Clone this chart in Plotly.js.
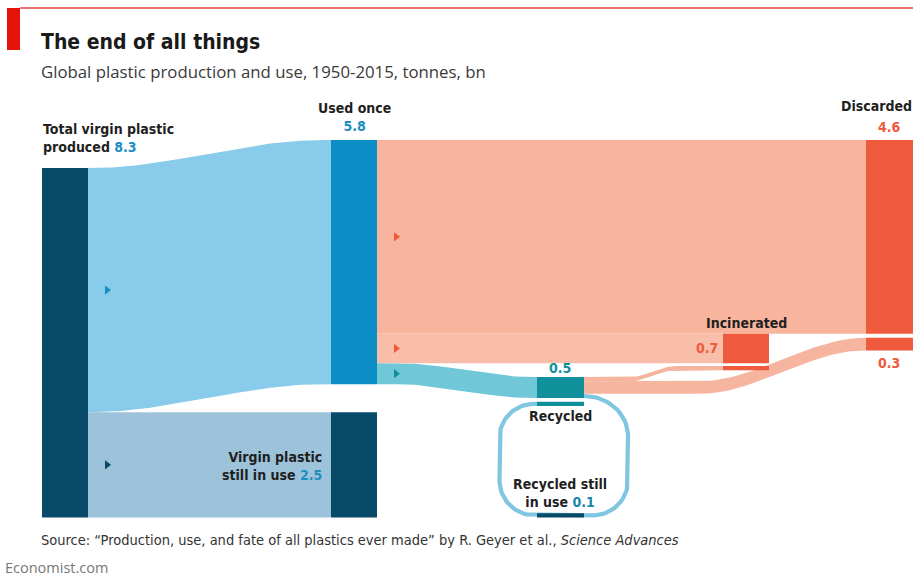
<!DOCTYPE html>
<html>
<head>
<meta charset="utf-8">
<script src="https://cdn.plot.ly/plotly-3.0.1.min.js"></script>
<style>html,body{margin:0;padding:0;background:#fff;}#chart{width:913px;height:578px;}</style>
</head>
<body>
<div id="chart"></div>
<script>
// ---------------- DATA ----------------
const nodeNames = ['Total virgin plastic produced', 'Used once', 'Virgin plastic still in use', 'Discarded', 'Incinerated', 'Recycled', 'Recycled still in use'];
const nodeTotals = [8.3, 5.8, 2.5, 4.6, 0.7, 0.5, 0.1];
const linkSource = [0, 0, 1, 1, 1, 5, 5, 5];
const linkTarget = [1, 2, 3, 4, 5, 4, 3, 6];
const linkValue  = [5.8, 2.5, 4.6, 0.7, 0.5, 0.1, 0.3, 0.1];

// ---------------- LAYOUT / STYLE ----------------
const W = 913, H = 578;
const K = 42.1;          // px per bn tonnes
const Y0 = 140;          // px of value 0 (top of "Used once")
const GAP = 0.665;       // gap between used-once and still-in-use columns (bn)
const NW = 46;           // node width px
const nodeX = [42, 331, 331, 866, 723, 537, 537];
const nodeW = [NW, NW, NW, 50, NW, 47, 47];
const inGap = {3: 0.1, 4: 0.07};
const nodeColor = ['#074b69', '#0b8ec6', '#074b69', '#ee5a3b', '#ee5a3b', '#10909b', '#074b69'];
const linkColor = ['#89cbea', '#9cc3da', '#f8b49c', '#f9bea9', '#6fc7d8', '#f6b59e', '#f6b59e', '#80c6e0'];
const arrowColor = ['#1a8fc6', '#074b69', '#ef5a3c', '#ef5a3c', '#10909b'];
const curveSpan = [[92, 322], null, null, null, [398, 532], [630, 676], [700, 864], null];

// node tops (bn), layout positions
const nodeTop = [];
nodeTop[1] = 0;
nodeTop[2] = nodeTotals[1] + GAP;
nodeTop[0] = nodeTop[2] + nodeTotals[2] - nodeTotals[0];
nodeTop[3] = 0;
nodeTop[4] = nodeTotals[3];
nodeTop[5] = 5.63;
nodeTop[6] = nodeTop[2] + nodeTotals[2] - nodeTotals[6];

// stacking
const outCur = nodeTop.slice(), inCur = nodeTop.slice();
const inSeen = {};
const L = linkValue.map((v, i) => {
  const s = linkSource[i], t = linkTarget[i];
  const a0 = outCur[s]; outCur[s] += v;
  if (inSeen[t] && inGap[t]) inCur[t] += inGap[t];
  inSeen[t] = true;
  const b0 = inCur[t]; inCur[t] += v;
  return {s, t, v, a0, a1: a0 + v, b0, b1: b0 + v};
});

const traces = [];
function smooth(t) { return t * t * (3 - 2 * t); }
function edge(x, ya, yb, span) {
  if (!span) return ya;
  if (x <= span[0]) return ya;
  if (x >= span[1]) return yb;
  return ya + (yb - ya) * smooth((x - span[0]) / (span[1] - span[0]));
}
function poly(xs, ys, color) {
  traces.push({x: xs, y: ys, type: 'scatter', mode: 'lines', fill: 'toself', fillcolor: color,
    line: {width: 0, color: color}, hoverinfo: 'skip', showlegend: false});
}
function rect(x0, x1, y0, y1, color) { poly([x0, x1, x1, x0, x0], [y0, y0, y1, y1, y0], color); }

// links (except loop)
L.forEach((l, i) => {
  if (l.t === 6) return;
  const x0 = nodeX[l.s] + nodeW[l.s], x1 = nodeX[l.t];
  const N = 80, xs = [], ys = [];
  for (let k = 0; k <= N; k++) { const x = x0 + (x1 - x0) * k / N; xs.push(x); ys.push(edge(x, l.a0, l.b0, curveSpan[i])); }
  for (let k = N; k >= 0; k--) { const x = x0 + (x1 - x0) * k / N; xs.push(x); ys.push(edge(x, l.a1, l.b1, curveSpan[i])); }
  poly(xs, ys, linkColor[i]);
});

// loop link recycled -> recycled still in use
(function () {
  const l = L[7];
  const xr0 = nodeX[5] + nodeW[5];
  const yStart = (l.a0 + l.a1) / 2;
  const yEnd = nodeTop[6] + nodeTotals[6] / 2;
  const yBack = nodeTop[5] + nodeTotals[5] + 0.14;   // re-entry bar centre
  const XR = 628, XL = 499.5;
  const r1x = 44, r1y = 40 / K, r2 = 35, r2y = 35 / K, r3x = 34, r3y = 34 / K;
  const xs = [], ys = [];
  const arc = (cx, cy, rx, ry, a0, a1) => { for (let k = 0; k <= 20; k++) { const a = a0 + (a1 - a0) * k / 20; xs.push(cx + rx * Math.cos(a)); ys.push(cy + ry * Math.sin(a)); } };
  xs.push(xr0); ys.push(yStart);
  arc(XR - r1x, yStart + r1y, r1x, r1y, -Math.PI / 2, 0);
  arc(XR - r2, yEnd - r2y, r2, r2y, 0, Math.PI / 2);
  arc(XL + r2, yEnd - r2y, r2, r2y, Math.PI / 2, Math.PI);
  arc(XL + r3x, yBack + r3y, r3x, r3y, Math.PI, 1.5 * Math.PI);
  xs.push(nodeX[5]); ys.push(yBack);
  traces.push({x: xs, y: ys, type: 'scatter', mode: 'lines', line: {color: linkColor[7], width: l.v * K, shape: 'linear'},
    hoverinfo: 'skip', showlegend: false});
  // re-entry bar
  rect(nodeX[5], nodeX[5] + nodeW[5], yBack - l.v / 2, yBack + l.v / 2, nodeColor[5]);
})();

// nodes
rect(nodeX[0], nodeX[0] + nodeW[0], nodeTop[0], nodeTop[0] + nodeTotals[0], nodeColor[0]);
L.forEach((l) => {
  rect(nodeX[l.t], nodeX[l.t] + nodeW[l.t], l.b0, l.b1, nodeColor[l.t]);
});

// arrows at link starts
const arrowLinks = [0, 1, 2, 3, 4];
traces.push({
  x: arrowLinks.map(i => nodeX[L[i].s] + nodeW[L[i].s] + 19),
  y: arrowLinks.map(i => (L[i].a0 + L[i].a1) / 2),
  type: 'scatter', mode: 'markers', hoverinfo: 'skip', showlegend: false,
  marker: {symbol: 'triangle-right', size: 8, color: arrowLinks.map(i => arrowColor[i]), line: {width: 0}}
});

// ---------------- TEXT ----------------
const FONT = "'Liberation Sans Narrow', 'DejaVu Sans Condensed', Roboto, sans-serif";
const DARK = '#1f1f1f';
const px = (x) => x / W, py = (y) => 1 - y / H;
function ann(text, x, y, opts) {
  return Object.assign({text, x: px(x), y: py(y), xref: 'paper', yref: 'paper', showarrow: false,
    xanchor: 'left', yanchor: 'middle', font: {family: FONT, size: 14, color: DARK}}, opts || {});
}
const c = (col, t) => `<span style="color:${col}">${t}</span>`;
const BLUE = '#1d8dc2', ORANGE = '#ee5a3b', TEAL = '#10909b';
const fmt = v => v.toFixed(1);
const annotations = [
  ann('<b>The end of all things</b>', 39, 42, {font: {family: FONT, size: 21, color: '#1a1a1a'}}),
  ann('Global plastic production and use, 1950-2015, tonnes, bn', 39, 71, {font: {family: "'Open Sans', sans-serif", size: 16.8, color: '#3a3a3a'}}),
  ann('<b>Total virgin plastic<br>produced ' + c(BLUE, fmt(nodeTotals[0])) + '</b>', 41, 138, {align: 'left'}),
  ann('<b>Used once<br>' + c(BLUE, fmt(nodeTotals[1])) + '</b>', 354, 117, {xanchor: 'center'}),
  ann('<b>Discarded</b>', 914, 106, {xanchor: 'right'}),
  ann('<b>' + c(ORANGE, fmt(nodeTotals[3])) + '</b>', 889, 127, {xanchor: 'center'}),
  ann('<b>Incinerated</b>', 746, 323, {xanchor: 'center'}),
  ann('<b>' + c(ORANGE, fmt(nodeTotals[4])) + '</b>', 720, 348, {xanchor: 'right'}),
  ann('<b>' + c(ORANGE, fmt(linkValue[6])) + '</b>', 889, 363, {xanchor: 'center'}),
  ann('<b>' + c(TEAL, fmt(nodeTotals[5])) + '</b>', 560, 368, {xanchor: 'center'}),
  ann('<b>Recycled</b>', 560, 416, {xanchor: 'center'}),
  ann('<b>Recycled still<br>in use ' + c('#1a86a8', fmt(nodeTotals[6])) + '</b>', 560, 493, {xanchor: 'center'}),
  ann('<b>Virgin plastic<br>still in use ' + c(BLUE, fmt(nodeTotals[2])) + '</b>', 324, 466, {xanchor: 'right', align: 'right'}),
  ann('Source: “Production, use, and fate of all plastics ever made” by R. Geyer et al., <i>Science Advances</i>', 39, 540, {font: {family: FONT, size: 14.5, color: '#333'}}),
  ann('Economist.com', 3, 567, {font: {family: "'Open Sans', sans-serif", size: 14.5, color: '#777'}})
];

const layout = {
  width: W, height: H, margin: {l: 0, r: 0, t: 0, b: 0},
  paper_bgcolor: '#fff', plot_bgcolor: '#fff', showlegend: false, hovermode: false,
  xaxis: {range: [0, W], visible: false, fixedrange: true},
  yaxis: {range: [(H - Y0) / K, -Y0 / K], visible: false, fixedrange: true},
  annotations,
  shapes: [
    {type: 'line', xref: 'paper', yref: 'paper', x0: px(20), x1: 1, y0: py(8), y1: py(8), line: {color: '#e4433c', width: 1.5}},
    {type: 'rect', xref: 'paper', yref: 'paper', x0: px(7), x1: px(20), y0: py(8), y1: py(50), fillcolor: '#e3120b', line: {width: 0}}
  ]
};

Plotly.newPlot('chart', traces, layout, {staticPlot: true, displayModeBar: false});
</script>
</body>
</html>
